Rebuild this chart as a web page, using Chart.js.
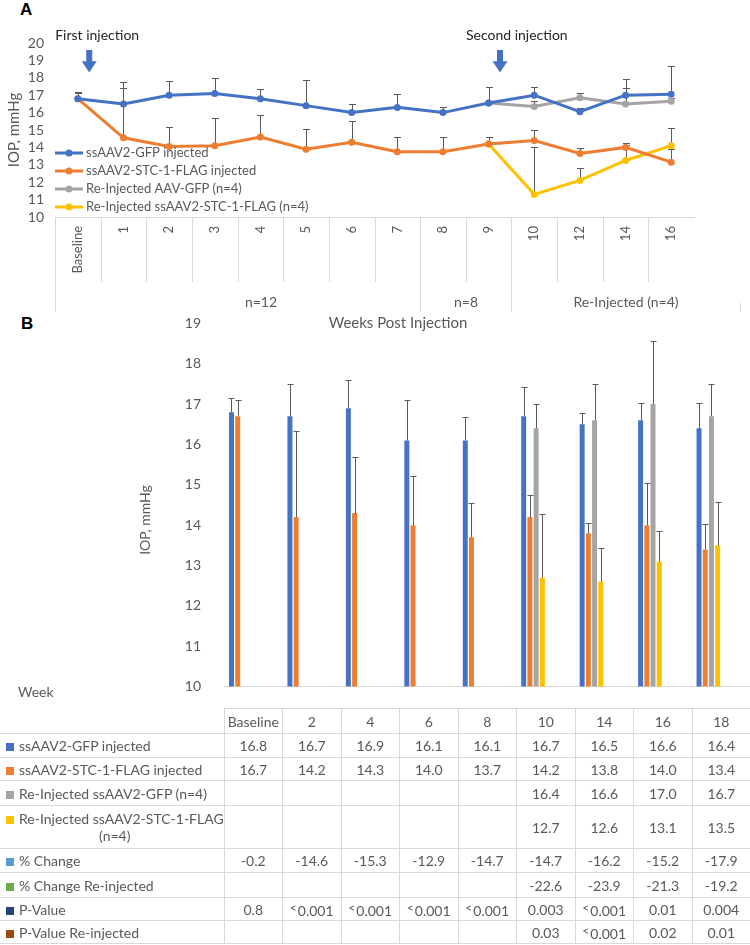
<!DOCTYPE html>
<html>
<head>
<meta charset="utf-8">
<script src="https://cdn.jsdelivr.net/npm/chart.js@4.4.1/dist/chart.umd.min.js"></script>
<style>
  body { margin: 0; width: 750px; height: 945px; position: relative; background: #fff; overflow: hidden;
         font-family: Lato, "Open Sans", sans-serif; color: #595959; }
  canvas { position: absolute; left: 0; }
  #chartA { top: 0; }
  #chartB { top: 300px; }
  .panel { position: absolute; font: bold 17px "Liberation Sans", Arial, sans-serif; color: #000; }
  #week { position: absolute; left: 18px; top: 683px; font-size: 14px; }
  table { position: absolute; left: 0; top: 708px; width: 751px; border-collapse: collapse; table-layout: fixed; font-size: 14px; }
  td { border: 1px solid #d9d9d9; text-align: center; padding: 0; white-space: nowrap; }
  td.lab { text-align: left; padding-left: 6px; border-left: none; }
  tr:first-child td:first-child { border-top: none; border-left: none; }
  .key { display: inline-block; width: 8px; height: 8px; margin-right: 5px; }
  .second { display: block; text-align: center; }
  sup { font-size: 12px; vertical-align: 4px; margin-right: 1px; }
</style>
</head>
<body>
<div class="panel" style="left:20px;top:0px">A</div>
<div class="panel" style="left:21px;top:314px">B</div>
<canvas id="chartA" width="750" height="335"></canvas>
<canvas id="chartB" width="750" height="410"></canvas>
<div id="week">Week</div>
<table id="tableB"></table>

<script>
// ---- Panel A: weekly IOP (line chart) ----
const weeksA = ['Baseline', '1', '2', '3', '4', '5', '6', '7', '8', '9', '10', '12', '14', '16'];
const gfpA       = [16.8, 16.5, 17.0, 17.1, 16.8, 16.4, 16.0, 16.3, 16.0, 16.55, 17.0, 16.05, 17.0, 17.05];
const gfpErrA    = [0.4, 1.25, 0.8, 0.9, 0.55, 1.45, 0.5, 0.75, 0.35, 0.9, 0.45, 0.2, 0.95, 1.6];
const stcA       = [16.8, 14.55, 14.05, 14.1, 14.6, 13.9, 14.3, 13.75, 13.75, 14.2, 14.4, 13.65, 14.0, 13.15];
const stcErrA    = [0.35, 2.85, 1.1, 1.6, 1.25, 1.15, 1.2, 0.85, 0.85, 0.4, 0.6, 0.3, 0.25, 0.75];
const reGfpA     = [null, null, null, null, null, null, null, null, null, 16.55, 16.35, 16.85, 16.5, 16.65];
const reGfpErrA  = [null, null, null, null, null, null, null, null, null, 0.9, 0.3, 0.3, 0.9, 0.2];
const reStcA     = [null, null, null, null, null, null, null, null, null, 14.2, 11.3, 12.1, 13.25, 14.1];
const reStcErrA  = [null, null, null, null, null, null, null, null, null, 0.4, 2.7, 0.7, 0.9, 1.0];
const legendA = ['ssAAV2-GFP injected', 'ssAAV2-STC-1-FLAG injected', 'Re-Injected AAV-GFP (n=4)', 'Re-Injected ssAAV2-STC-1-FLAG (n=4)'];
const groupLabelsA = ['n=12', 'n=8', 'Re-Injected (n=4)'];
const groupStartA = [1, 8, 10];
const groupEndA = [7, 9, 14];
const injectionLabels = ['First injection', 'Second injection'];
const injectionAt = [0, 9];

// ---- Panel B: IOP by week (bar chart + table) ----
const weeksB = ['Baseline', '2', '4', '6', '8', '10', '14', '16', '18'];
const gfpB      = [16.8, 16.7, 16.9, 16.1, 16.1, 16.7, 16.5, 16.6, 16.4];
const gfpErrB   = [0.36, 0.81, 0.7, 1.01, 0.57, 0.73, 0.27, 0.43, 0.63];
const stcB      = [16.7, 14.2, 14.3, 14.0, 13.7, 14.2, 13.8, 14.0, 13.4];
const stcErrB   = [0.41, 2.14, 1.4, 1.23, 0.86, 0.55, 0.25, 1.05, 0.62];
const reGfpB    = [null, null, null, null, null, 16.4, 16.6, 17.0, 16.7];
const reGfpErrB = [null, null, null, null, null, 0.61, 0.91, 1.57, 0.79];
const reStcB    = [null, null, null, null, null, 12.7, 12.6, 13.1, 13.5];
const reStcErrB = [null, null, null, null, null, 1.57, 0.83, 0.75, 1.08];
const pctChange   = [-0.2, -14.6, -15.3, -12.9, -14.7, -14.7, -16.2, -15.2, -17.9];
const pctChangeRe = [null, null, null, null, null, -22.6, -23.9, -21.3, -19.2];
const pValue   = ['0.8', '<0.001', '<0.001', '<0.001', '<0.001', '0.003', '<0.001', '0.01', '0.004'];
const pValueRe = [null, null, null, null, null, '0.03', '<0.001', '0.02', '0.01'];

const BLUE = '#4472C4', ORANGE = '#ED7D31', GRAY = '#A5A5A5', YELLOW = '#FFC000';
const TEXT = '#595959', LINE = '#d9d9d9';
const FONT = 'Lato, "Open Sans", sans-serif';

function drawErrors(chart, cap) {
  const ctx = chart.ctx, y = chart.scales.y;
  ctx.save();
  ctx.strokeStyle = TEXT;
  ctx.lineWidth = 1;
  chart.data.datasets.forEach((ds, i) => {
    if (!ds.errorBars) return;
    chart.getDatasetMeta(i).data.forEach((el, j) => {
      const v = ds.data[j], e = ds.errorBars[j];
      if (v == null || e == null) return;
      const x = Math.round(el.x) + 0.5;
      const top = Math.round(y.getPixelForValue(v + e)) + 0.5;
      ctx.beginPath();
      ctx.moveTo(x, el.y);
      ctx.lineTo(x, top);
      ctx.moveTo(x - cap, top);
      ctx.lineTo(x + cap, top);
      ctx.stroke();
    });
  });
  ctx.restore();
}

const panelAExtras = {
  id: 'panelAExtras',
  beforeDatasetsDraw(chart) { drawErrors(chart, 3.5); },
  afterDraw(chart) {
    const ctx = chart.ctx, xs = chart.scales.x, ys = chart.scales.y, area = chart.chartArea;
    const half = (xs.getPixelForValue(1) - xs.getPixelForValue(0)) / 2;
    const edge = i => Math.round(xs.getPixelForValue(i) - half) + 0.5;
    const axisY = area.bottom;
    ctx.save();
    // multi-level category axis
    ctx.strokeStyle = LINE;
    ctx.lineWidth = 1;
    ctx.beginPath();
    for (let i = 1; i < weeksA.length; i++) { ctx.moveTo(edge(i), axisY); ctx.lineTo(edge(i), axisY + 65); }
    ctx.moveTo(edge(0), axisY); ctx.lineTo(edge(0), axisY + 95);
    for (let g = 1; g < groupStartA.length; g++) { ctx.moveTo(edge(groupStartA[g]), axisY); ctx.lineTo(edge(groupStartA[g]), axisY + 95); }
    const last = edge(groupEndA[groupEndA.length - 1] + 1);
    ctx.moveTo(last, axisY + 86); ctx.lineTo(last, axisY + 95);
    ctx.stroke();
    ctx.fillStyle = TEXT;
    ctx.font = '14px ' + FONT;
    ctx.textAlign = 'center';
    ctx.textBaseline = 'middle';
    groupLabelsA.forEach((lab, g) => {
      const cx = (edge(groupStartA[g]) + edge(groupEndA[g] + 1)) / 2;
      ctx.fillText(lab, cx, axisY + 85);
    });
    ctx.font = '15px ' + FONT;
    ctx.fillText('Weeks Post Injection', (edge(0) + last) / 2, axisY + 106);
    // y title
    ctx.save();
    ctx.translate(14, (area.top + area.bottom) / 2);
    ctx.rotate(-Math.PI / 2);
    ctx.fillText('IOP, mmHg', 0, 0);
    ctx.restore();
    // injection arrows
    injectionLabels.forEach((lab, k) => {
      const ax = xs.getPixelForValue(injectionAt[k]) + half * 0.5;
      const y0 = ys.getPixelForValue(19.6), y1 = ys.getPixelForValue(18.3);
      const yh = y0 + (y1 - y0) * 0.5;
      ctx.fillStyle = BLUE;
      ctx.beginPath();
      ctx.moveTo(ax - 3, y0); ctx.lineTo(ax + 3, y0); ctx.lineTo(ax + 3, yh); ctx.lineTo(ax + 7.5, yh);
      ctx.lineTo(ax, y1); ctx.lineTo(ax - 7.5, yh); ctx.lineTo(ax - 3, yh); ctx.closePath();
      ctx.fill();
      ctx.fillStyle = '#262626';
      ctx.font = '14px ' + FONT;
      ctx.textAlign = 'left';
      ctx.fillText(lab, ax - 34, area.top - 8);
    });
    // legend inside plot
    ctx.font = '13px ' + FONT;
    ctx.textAlign = 'left';
    chart.data.datasets.forEach((ds, i) => {
      const ly = axisY - 64 + i * 18;
      const lx = area.left;
      ctx.strokeStyle = ds.borderColor;
      ctx.lineWidth = 3;
      ctx.beginPath(); ctx.moveTo(lx, ly); ctx.lineTo(lx + 28, ly); ctx.stroke();
      ctx.fillStyle = ds.borderColor;
      ctx.beginPath(); ctx.arc(lx + 14, ly, 3.5, 0, Math.PI * 2); ctx.fill();
      ctx.fillStyle = TEXT;
      ctx.fillText(ds.label, lx + 31, ly);
    });
    ctx.restore();
  }
};

new Chart(document.getElementById('chartA'), {
  type: 'line',
  data: {
    labels: weeksA,
    datasets: [
      { label: legendA[0], data: gfpA, errorBars: gfpErrA, borderColor: BLUE, backgroundColor: BLUE },
      { label: legendA[1], data: stcA, errorBars: stcErrA, borderColor: ORANGE, backgroundColor: ORANGE },
      { label: legendA[2], data: reGfpA, errorBars: reGfpErrA, borderColor: GRAY, backgroundColor: GRAY },
      { label: legendA[3], data: reStcA, errorBars: reStcErrA, borderColor: YELLOW, backgroundColor: YELLOW }
    ]
  },
  options: {
    responsive: false,
    animation: false,
    layout: { padding: { top: 43, right: 56, left: 0, bottom: 0 } },
    elements: {
      line: { borderWidth: 3, tension: 0 },
      point: { radius: 3.5, borderWidth: 0, hoverRadius: 3.5 }
    },
    plugins: { legend: { display: false }, tooltip: { enabled: false } },
    scales: {
      x: {
        offset: true,
        grid: { display: false, drawTicks: false },
        border: { color: LINE },
        ticks: { minRotation: 90, maxRotation: 90, autoSkip: false, color: TEXT, font: { size: 13, family: FONT }, padding: 9 },
        afterFit: s => { s.height = 118; }
      },
      y: {
        min: 10, max: 20,
        grid: { display: false },
        border: { display: false },
        ticks: { stepSize: 1, autoSkip: false, color: TEXT, font: { size: 14, family: FONT }, padding: 3 },
        afterFit: s => { s.width = 55; }
      }
    }
  },
  plugins: [panelAExtras]
});

const panelBExtras = {
  id: 'panelBExtras',
  afterDatasetsDraw(chart) { drawErrors(chart, 3); },
  afterDraw(chart) {
    const ctx = chart.ctx;
    ctx.save();
    ctx.fillStyle = TEXT;
    ctx.font = '14px ' + FONT;
    ctx.textAlign = 'center';
    ctx.textBaseline = 'middle';
    ctx.translate(145, 220);
    ctx.rotate(-Math.PI / 2);
    ctx.fillText('IOP, mmHg', 0, 0);
    ctx.restore();
  }
};

new Chart(document.getElementById('chartB'), {
  type: 'bar',
  data: {
    labels: weeksB,
    datasets: [
      { label: 'ssAAV2-GFP injected', data: gfpB, errorBars: gfpErrB, backgroundColor: BLUE },
      { label: 'ssAAV2-STC-1-FLAG injected', data: stcB, errorBars: stcErrB, backgroundColor: ORANGE },
      { label: 'Re-Injected ssAAV2-GFP (n=4)', data: reGfpB, errorBars: reGfpErrB, backgroundColor: GRAY },
      { label: 'Re-Injected ssAAV2-STC-1-FLAG (n=4)', data: reStcB, errorBars: reStcErrB, backgroundColor: YELLOW },
      // empty slots so the bar group sits left in each category, as in the original
      { data: [] }, { data: [] }, { data: [] }, { data: [] }
    ]
  },
  options: {
    responsive: false,
    animation: false,
    layout: { padding: { top: 18, right: 0, left: 0, bottom: 0 } },
    datasets: { bar: { categoryPercentage: 0.85, barPercentage: 0.8 } },
    plugins: { legend: { display: false }, tooltip: { enabled: false } },
    scales: {
      x: {
        grid: { display: false, drawTicks: false },
        ticks: { display: false },
        border: { color: LINE },
        afterFit: s => { s.height = 2; }
      },
      y: {
        min: 10, max: 19,
        grid: { display: false },
        border: { display: false },
        ticks: { stepSize: 1, autoSkip: false, color: TEXT, font: { size: 14, family: FONT }, padding: 15 },
        afterFit: s => { s.width = 224; }
      }
    }
  },
  plugins: [panelBExtras]
});

// ---- data table under panel B ----
const tableRows = [
  { label: 'ssAAV2-GFP injected', key: BLUE, values: gfpB },
  { label: 'ssAAV2-STC-1-FLAG injected', key: ORANGE, values: stcB },
  { label: 'Re-Injected ssAAV2-GFP (n=4)', key: GRAY, values: reGfpB },
  { label: 'Re-Injected ssAAV2-STC-1-FLAG', second: '(n=4)', key: YELLOW, values: reStcB },
  { label: '% Change', key: '#5B9BD5', values: pctChange },
  { label: '% Change Re-injected', key: '#70AD47', values: pctChangeRe },
  { label: 'P-Value', key: '#264478', values: pValue },
  { label: 'P-Value Re-injected', key: '#9E480E', values: pValueRe }
];
const rowHeights = [24, 23, 25, 43, 24, 25, 23, 23];

function cellText(v) {
  if (v == null) return '';
  if (typeof v === 'number') return v.toFixed(1);
  return v.startsWith('<') ? '<sup>&lt;</sup>' + v.slice(1) : v;
}

let html = '<colgroup><col style="width:224px">' + weeksB.map(() => '<col>').join('') + '</colgroup>';
html += '<tr style="height:25px"><td></td>' + weeksB.map(w => '<td>' + w + '</td>').join('') + '</tr>';
tableRows.forEach((r, i) => {
  html += '<tr style="height:' + rowHeights[i] + 'px"><td class="lab"><span class="key" style="background:' + r.key + '"></span>' + r.label +
    (r.second ? '<span class="second">' + r.second + '</span>' : '') + '</td>' +
    r.values.map(v => '<td>' + cellText(v) + '</td>').join('') + '</tr>';
});
document.getElementById('tableB').innerHTML = html;
</script>
</body>
</html>
